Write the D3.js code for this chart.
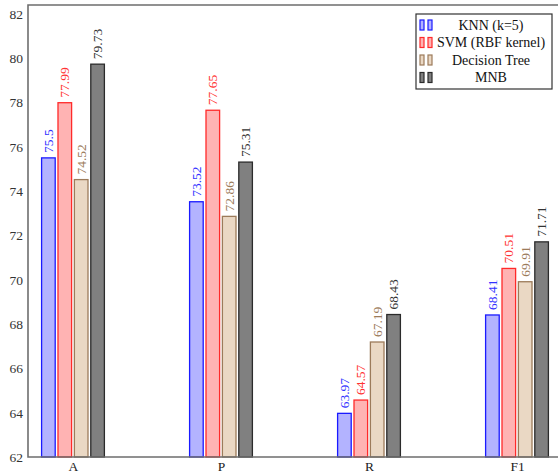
<!DOCTYPE html>
<html>
<head>
<meta charset="utf-8">
<script src="https://cdn.jsdelivr.net/npm/d3@7"></script>
<style>
  html, body { margin: 0; padding: 0; background: #fff; }
  svg { display: block; }
  svg text { font-family: "Liberation Serif", "DejaVu Serif", serif !important; }
</style>
</head>
<body>
<svg id="chart" width="558" height="474"></svg>
<script>
// Metrics on the x axis
const categories = ["A", "P", "R", "F1"];
// Classifiers (one bar per metric each)
const seriesNames = ["KNN (k=5)", "SVM (RBF kernel)", "Decision Tree", "MNB"];
const knnValues = [75.5, 73.52, 63.97, 68.41];
const svmValues = [77.99, 77.65, 64.57, 70.51];
const dtValues = [74.52, 72.86, 67.19, 69.91];
const mnbValues = [79.73, 75.31, 68.43, 71.71];
const yTicks = [62, 64, 66, 68, 70, 72, 74, 76, 78, 80, 82];

const seriesValues = [knnValues, svmValues, dtValues, mnbValues];
const styles = [
  { fill: "#b3b3ff", stroke: "#1a1aff", text: "#3333ff" },
  { fill: "#ffb3b3", stroke: "#ff2a2a", text: "#ff3333" },
  { fill: "#ead8c4", stroke: "#9c7b5a", text: "#9c7b5a" },
  { fill: "#808080", stroke: "#2b2b2b", text: "#333333" }
];

const svg = d3.select("#chart");
const plotLeft = 28, plotRight = 562, plotTop = 5, plotBottom = 457;

const x = d3.scalePoint().domain(categories).range([plotLeft, plotRight]).padding(0.304);
const inner = d3.scaleBand().domain(seriesNames).range([-31.4, 31.4]).paddingInner(0.17);
const y = d3.scaleLinear().domain([62, 82.4]).range([plotBottom, plotTop]);

// Bars and value labels
seriesNames.forEach((name, si) => {
  const st = styles[si];
  const g = svg.append("g");
  const data = categories.map((c, ci) => ({ c, v: seriesValues[si][ci] }));
  g.selectAll("rect").data(data).enter().append("rect")
    .attr("x", d => x(d.c) + inner(name))
    .attr("y", d => y(d.v))
    .attr("width", inner.bandwidth())
    .attr("height", d => y(62) - y(d.v))
    .attr("fill", st.fill)
    .attr("stroke", st.stroke)
    .attr("stroke-width", 1.3);
  g.selectAll("text").data(data).enter().append("text")
    .attr("transform", d => `translate(${x(d.c) + inner(name) + inner.bandwidth() / 2 + 4.5},${y(d.v) - 5}) rotate(-90)`)
    .attr("fill", st.text)
    .attr("font-size", 13.5)
    .text(d => String(d.v));
});

// Axis frame
svg.append("path")
  .attr("d", `M${plotRight},${plotTop}H${plotLeft}V${plotBottom}H${plotRight}`)
  .attr("fill", "none")
  .attr("stroke", "#6e6e6e")
  .attr("stroke-width", 1.6);

// Y axis tick labels
const yAxis = d3.axisLeft(y).tickValues(yTicks).tickSize(0).tickPadding(5);
const ya = svg.append("g").attr("transform", `translate(${plotLeft},0)`).call(yAxis);
ya.select(".domain").remove();
ya.selectAll("text").attr("font-size", 13.5).attr("fill", "#333");

// X axis tick labels
const xAxis = d3.axisBottom(x).tickSize(0).tickPadding(4);
const xa = svg.append("g").attr("transform", `translate(0,${plotBottom})`).call(xAxis);
xa.select(".domain").remove();
xa.selectAll("text").attr("font-size", 13.5).attr("fill", "#222");

// Legend
const lg = svg.append("g").attr("transform", "translate(416,14)");
lg.append("rect").attr("width", 136).attr("height", 75)
  .attr("fill", "#fff").attr("stroke", "#333").attr("stroke-width", 1.2);
seriesNames.forEach((name, si) => {
  const st = styles[si];
  const cy = 11 + si * 17.5;
  [4, 12].forEach(dx => {
    lg.append("rect").attr("x", dx).attr("y", cy - 5).attr("width", 4).attr("height", 10)
      .attr("fill", st.fill).attr("stroke", st.stroke).attr("stroke-width", 1.2);
  });
  lg.append("text").attr("x", 75).attr("y", cy + 4.5)
    .attr("text-anchor", "middle").attr("font-size", 14).attr("fill", "#111")
    .text(name);
});
</script>
</body>
</html>
